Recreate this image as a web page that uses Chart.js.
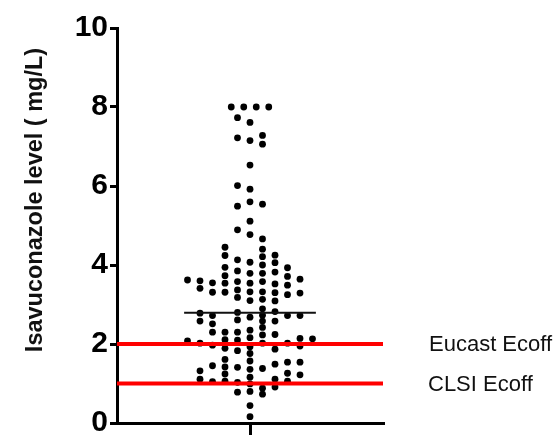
<!DOCTYPE html>
<html>
<head>
<meta charset="utf-8">
<script src="https://cdn.jsdelivr.net/npm/chart.js@4.4.1/dist/chart.umd.min.js"></script>
<style>
  body { margin: 0; background: #fff; }
  #wrap { width: 556px; height: 435px; }
</style>
</head>
<body>
<div id="wrap"><canvas id="canvas"></canvas></div>
<script>
// isavuconazole levels (mg/L), grouped by swarm column (x offset in dot widths)
const columnOffsets = [-5, -4, -3, -2, -1, 0, 1, 2, 3, 4, 5]
const levelsByColumn = [
  [3.62, 2.08],
  [3.60, 3.41, 2.78, 2.58, 2.02, 1.32, 1.11],
  [3.55, 3.31, 2.72, 2.51, 2.30, 1.97, 1.45, 1.05],
  [4.45, 4.24, 3.94, 3.73, 3.54, 3.31, 2.30, 2.11, 1.89, 1.61, 1.42, 1.24, 1.06],
  [7.73, 7.22, 6.01, 5.49, 4.89, 4.13, 3.85, 3.58, 3.37, 3.18, 2.80, 2.61, 2.30, 2.10, 1.83, 1.41, 1.03, 0.78],
  [7.61, 7.15, 6.53, 5.92, 5.60, 5.11, 4.77, 4.07, 3.79, 3.54, 3.32, 3.10, 2.68, 2.35, 2.16, 1.93, 1.76, 1.57, 1.36, 1.16, 0.99, 0.80, 0.44, 0.16],
  [7.28, 7.06, 5.54, 4.66, 4.40, 4.21, 4.00, 3.79, 3.58, 3.32, 3.13, 2.89, 2.73, 2.58, 2.42, 2.23, 2.02, 1.38, 0.88, 0.73],
  [4.25, 4.06, 3.82, 3.52, 3.30, 3.09, 2.82, 2.58, 2.24, 1.87, 1.49, 1.11, 0.91],
  [3.93, 3.71, 3.49, 3.25, 2.72, 2.02, 1.54, 1.26, 1.06],
  [3.64, 3.29, 2.72, 2.14, 1.95, 1.54, 1.22],
  [2.13]
]
// the top row at 8 mg/L sits between columns
const topRowOffsets = [-1.5, -0.5, 0.5, 1.5]
const topRowLevel = 8.0

const meanLevel = 2.79
const eucastEcoff = 2
const clsiEcoff = 1
const yTicks = [0, 2, 4, 6, 8, 10]
const yTitle = 'Isavuconazole level ( mg/L)'

const xHalf = 10.64
const meanHalf = 5.27

const points = []
columnOffsets.forEach((off, i) => {
  levelsByColumn[i].forEach(v => points.push({ x: off, y: v }))
})
topRowOffsets.forEach(off => points.push({ x: off, y: topRowLevel }))

const font = '"Liberation Sans", Arial, Helvetica, sans-serif'

// axis title (off-centre in the original) and the two cutoff labels
const extraText = {
  id: 'extraText',
  afterDraw(chart) {
    const c = chart.ctx
    const y = chart.scales.y
    c.save()
    c.fillStyle = '#111'
    c.textBaseline = 'middle'
    c.font = '22px ' + font
    c.fillText('Eucast Ecoff', 429, y.getPixelForValue(eucastEcoff) + 1)
    c.fillText('CLSI Ecoff', 428, y.getPixelForValue(clsiEcoff) + 1)

    c.translate(36, 200)
    c.rotate(-Math.PI / 2)
    c.textAlign = 'center'
    c.font = 'bold 23.5px ' + font
    c.fillText(yTitle, 0, 0)
    c.restore()
  }
}

new Chart(document.getElementById('canvas'), {
  type: 'scatter',
  data: {
    datasets: [
      {
        data: points,
        backgroundColor: '#000',
        borderColor: '#000',
        pointRadius: 3.4,
        borderWidth: 0,
        order: 5
      },
      {
        type: 'line',
        data: [{ x: -meanHalf, y: meanLevel }, { x: meanHalf, y: meanLevel }],
        borderColor: '#111',
        borderWidth: 2,
        pointRadius: 0,
        order: 2
      },
      {
        type: 'line',
        data: [{ x: -xHalf, y: eucastEcoff }, { x: xHalf, y: eucastEcoff }],
        borderColor: '#ff0000',
        borderWidth: 4,
        pointRadius: 0,
        order: 1
      },
      {
        type: 'line',
        data: [{ x: -xHalf, y: clsiEcoff }, { x: xHalf, y: clsiEcoff }],
        borderColor: '#ff0000',
        borderWidth: 4,
        pointRadius: 0,
        order: 1
      }
    ]
  },
  options: {
    responsive: true,
    maintainAspectRatio: false,
    animation: false,
    layout: { padding: { top: 28, right: 173, bottom: 0, left: 0 } },
    plugins: { legend: { display: false }, tooltip: { enabled: false } },
    scales: {
      x: {
        type: 'linear',
        min: -xHalf,
        max: xHalf,
        afterBuildTicks: s => { s.ticks = [{ value: 0 }] },
        ticks: { display: false },
        grid: { drawOnChartArea: false, tickLength: 12, lineWidth: 3, color: '#000' },
        border: { color: '#000', width: 3 }
      },
      y: {
        min: 0,
        max: 10,
        afterBuildTicks: s => { s.ticks = yTicks.map(v => ({ value: v })) },
        afterFit: s => { s.width = 117; s.paddingTop = 0; s.paddingBottom = 0 },
        ticks: { color: '#000', padding: 2, font: { family: font, size: 30, weight: 'bold' } },
        grid: { drawOnChartArea: false, tickLength: 7, lineWidth: 3, color: '#000' },
        border: { color: '#000', width: 3 }
      }
    }
  },
  plugins: [extraText]
})
</script>
</body>
</html>
